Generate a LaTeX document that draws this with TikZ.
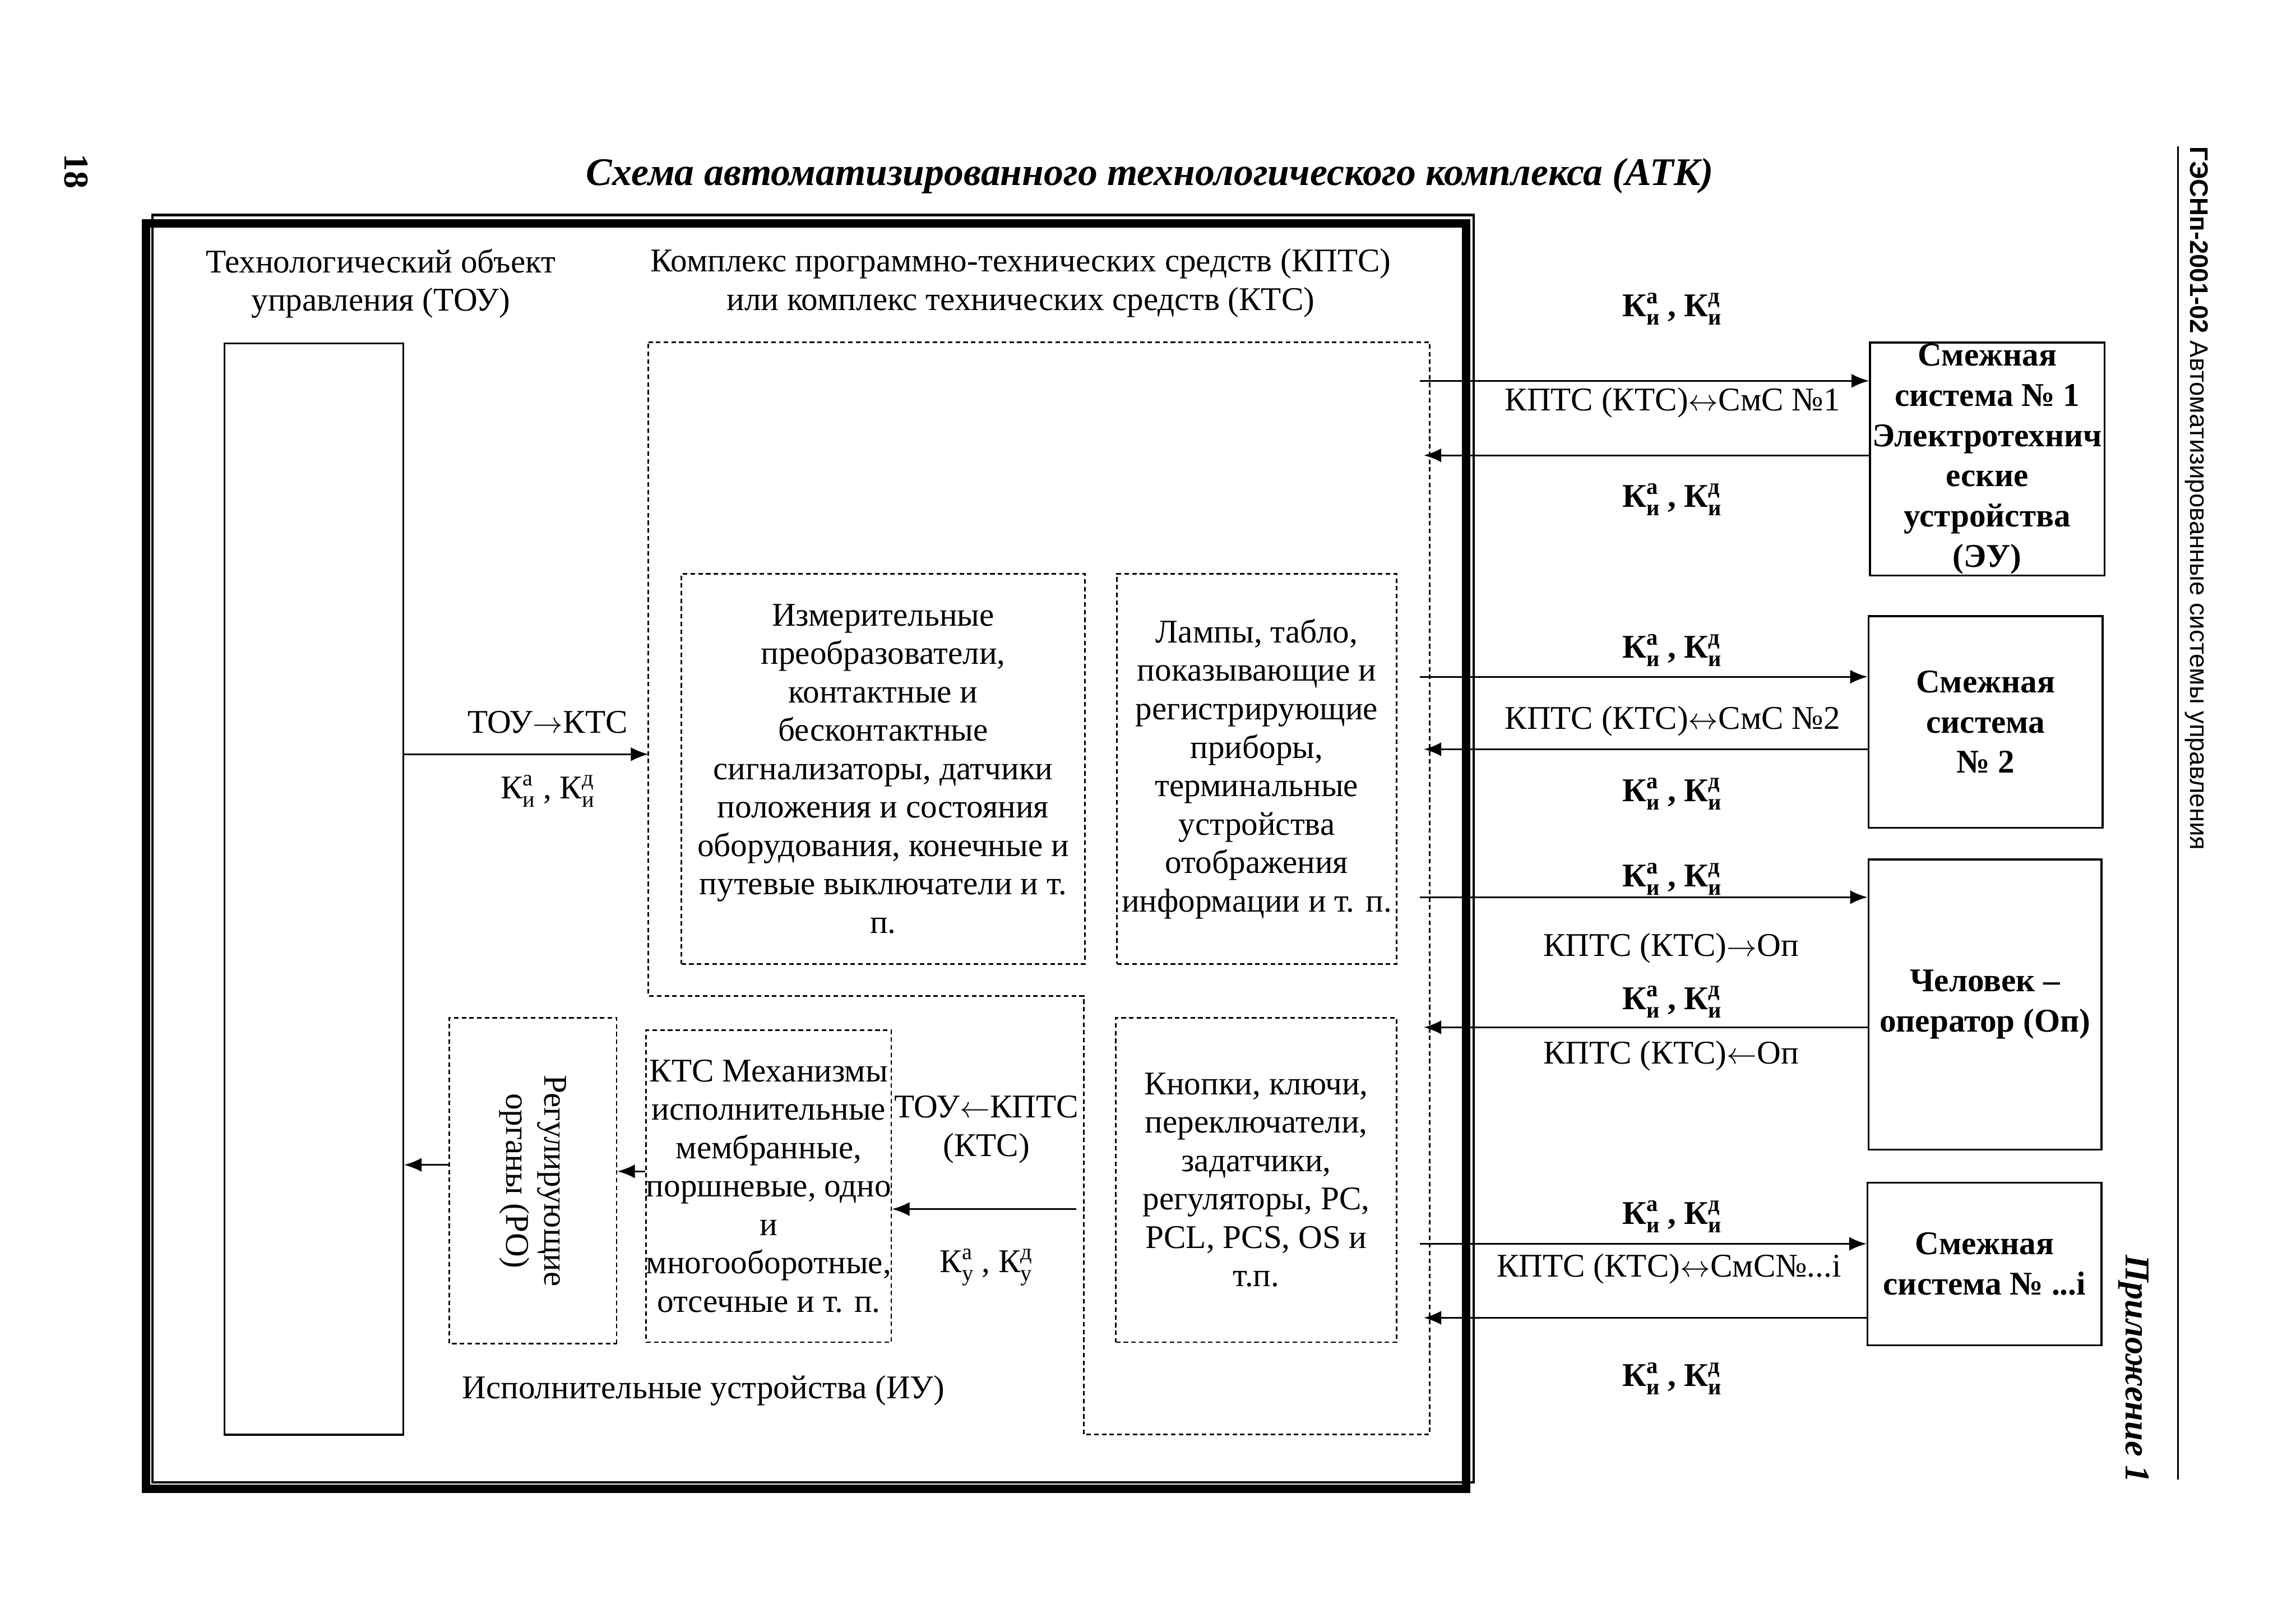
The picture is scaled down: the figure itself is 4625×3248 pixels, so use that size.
\documentclass[tikz,border=0pt]{standalone}
\usepackage{fontspec}
\setmainfont{Liberation Serif}
\newfontfamily\hdrfont{Liberation Sans}
\usetikzlibrary{arrows.meta}
\newcommand{\Kx}[2]{К\rlap{\raisebox{0.85ex}{\fontsize{13}{13}\selectfont #1}}\raisebox{-0.55ex}{\fontsize{13}{13}\selectfont #2}}
\newcommand{\ra}{\ensuremath{\rightarrow}}
\newcommand{\la}{\ensuremath{\leftarrow}}
\newcommand{\lra}{\ensuremath{\leftrightarrow}}
\begin{document}
\begin{tikzpicture}[x=0.01cm,y=-0.01cm,
  txt/.style={font=\fontsize{19}{22}\selectfont, align=center, inner sep=0pt},
  btxt/.style={font=\bfseries\fontsize{19}{23}\selectfont, align=center, inner sep=0pt},
  dline/.style={draw, line width=0.9pt, dash pattern=on 2.6pt off 1.8pt},
  dbox/.style={dline, inner sep=0pt, align=center, font=\fontsize{19}{22}\selectfont},
  sbox/.style={draw, line width=1.1pt, inner sep=0pt, align=center},
  arr/.style={line width=1pt, -{Latex[length=10pt,width=8pt]}},
]
\useasboundingbox (0,0) rectangle (4625,3248);
% frame
\draw[line width=1.3pt] (307,433) rectangle (2968,2985);
\draw[line width=4.8pt] (294,450) rectangle (2953,2998);
% page furniture
\node[font=\bfseries\fontsize{20}{24}\selectfont, rotate=-90, inner sep=0pt] (pnum) at (153,345) {18};
\node[font=\bfseries\itshape\fontsize{22.4}{27}\selectfont, inner sep=0pt] (title) at (2316,354) {Схема автоматизированного технологического комплекса (АТК)};
\node[font=\hdrfont\fontsize{14.6}{17}\selectfont, rotate=-90, anchor=west, inner sep=0pt] (hdr) at (4425,295) {\textbf{ГЭСНп-2001-02} Автоматизированные системы управления};
\coordinate (hlt) at (4387,295);
\coordinate (hlb) at (4387,2980);
\draw[line width=1.1pt] (hlt) -- (hlb);
\node[font=\bfseries\itshape\fontsize{20}{24}\selectfont, rotate=-90, inner sep=0pt] (app) at (4298,2757) {Приложение 1};
% headings
\node[txt] (toulbl) at (767,571) {Технологический объект\\управления (ТОУ)};
\node[txt] (kptslbl) at (2056,570) {Комплекс программно-технических средств (КПТС)\\или комплекс технических средств (КТС)};
% TOU box
\node[sbox, minimum width=3.6cm, minimum height=21.97cm] (tou) at (632,1790.5) {};
% KPTS outline
\draw[dline] (1306,689) -- (2880,689) -- (2880,2889) -- (2183,2889) -- (2183,2006) -- (1306,2006) -- cycle;
% inner boxes
\node[dbox, minimum width=8.12cm, minimum height=7.85cm] (meas) at (1779,1548.5) {Измерительные\\преобразователи,\\контактные и\\бесконтактные\\сигнализаторы, датчики\\положения и состояния\\оборудования, конечные и\\путевые выключатели и т.\\п.};
\node[dbox, minimum width=5.63cm, minimum height=7.85cm] (lamp) at (2531.5,1548.5) {Лампы, табло,\\показывающие и\\регистрирующие\\приборы,\\терминальные\\устройства\\отображения\\информации и т. п.};
\node[dbox, minimum width=5.65cm, minimum height=6.53cm] (knop) at (2530.5,2376.5) {Кнопки, ключи,\\переключатели,\\задатчики,\\регуляторы, PC,\\PCL, PCS, OS и\\т.п.};
\node[dbox, minimum width=4.87cm, minimum height=6.28cm] (mech) at (1548.5,2389) {КТС Механизмы\\исполнительные\\мембранные,\\поршневые, одно\\и\\многооборотные,\\отсечные и т. п.};
\node[dbox, rotate=-90, minimum width=6.56cm, minimum height=3.37cm] (ro) at (1073.5,2378) {Регулирующие\\органы (РО)};
% adjacent systems
\node[sbox, font=\bfseries\fontsize{19}{23}\selectfont, minimum width=4.72cm, minimum height=4.69cm] (s1) at (4003,924.5) {Смежная\\система № 1\\Электротехнич\\еские\\устройства\\(ЭУ)};
\node[sbox, font=\bfseries\fontsize{19}{23}\selectfont, minimum width=4.71cm, minimum height=4.26cm] (s2) at (3999.5,1454) {Смежная\\система\\№ 2};
\node[sbox, font=\bfseries\fontsize{19}{23}\selectfont, minimum width=4.69cm, minimum height=5.84cm] (op) at (3998.5,2023) {Человек –\\оператор (Оп)};
\node[sbox, font=\bfseries\fontsize{19}{23}\selectfont, minimum width=4.71cm, minimum height=3.27cm] (si) at (3997.5,2545.5) {Смежная\\система № ...i};
% left arrows
\coordinate (kL) at (1306,1519);
\draw[arr] (tou.east |- kL) -- (kL);
\node[txt] (toukts) at (1103,1454) {ТОУ\ra КТС};
\node[txt] (toukk) at (1103,1593) {\Kx{а}{и} , \Kx{д}{и}};
\coordinate (kM) at (2168,2435);
\draw[arr] (kM) -- (mech.east |- kM);
\node[txt] (tkl) at (1987,2275) {ТОУ\la КПТС\\(КТС)};
\node[txt] (tkk) at (1986,2552) {\Kx{а}{у} , \Kx{д}{у}};
\coordinate (yMR) at (0,2359);
\draw[arr] (mech.west |- yMR) -- (ro.north |- yMR);
\coordinate (yRT) at (0,2346);
\draw[arr] (ro.south |- yRT) -- (tou.east |- yRT);
\node[txt] (iu) at (1417,2801) {Исполнительные устройства (ИУ)};
% right arrows
\coordinate (r1) at (2860,767);
\coordinate (l1) at (2868,917);
\coordinate (r2) at (2860,1363);
\coordinate (l2) at (2868,1509);
\coordinate (r3) at (2860,1807);
\coordinate (l3) at (2868,2069);
\coordinate (r4) at (2860,2505);
\coordinate (l4) at (2868,2654);
\draw[arr] (r1) -- (s1.west |- r1);
\draw[arr] (s1.west |- l1) -- (l1);
\draw[arr] (r2) -- (s2.west |- r2);
\draw[arr] (s2.west |- l2) -- (l2);
\draw[arr] (r3) -- (op.west |- r3);
\draw[arr] (op.west |- l3) -- (l3);
\draw[arr] (r4) -- (si.west |- r4);
\draw[arr] (si.west |- l4) -- (l4);
% right labels
\node[btxt] (k1a) at (3368,622) {\Kx{а}{и} , \Kx{д}{и}};
\node[btxt] (k1b) at (3368,1006) {\Kx{а}{и} , \Kx{д}{и}};
\node[btxt] (k2a) at (3368,1310) {\Kx{а}{и} , \Kx{д}{и}};
\node[btxt] (k2b) at (3368,1599) {\Kx{а}{и} , \Kx{д}{и}};
\node[btxt] (k3a) at (3368,1770) {\Kx{а}{и} , \Kx{д}{и}};
\node[btxt] (k3b) at (3368,2018) {\Kx{а}{и} , \Kx{д}{и}};
\node[btxt] (k4a) at (3368,2450) {\Kx{а}{и} , \Kx{д}{и}};
\node[btxt] (k4b) at (3368,2777) {\Kx{а}{и} , \Kx{д}{и}};
\node[txt] (c1) at (3369,811) {КПТС (КТС)\lra СмС №1};
\node[txt] (c2) at (3369,1452) {КПТС (КТС)\lra СмС №2};
\node[txt] (c3) at (3366,1910) {КПТС (КТС)\ra Оп};
\node[txt] (c4) at (3366,2126) {КПТС (КТС)\la Оп};
\node[txt] (c5) at (3362,2556) {КПТС (КТС)\lra СмС№...i};
\end{tikzpicture}
\end{document}
